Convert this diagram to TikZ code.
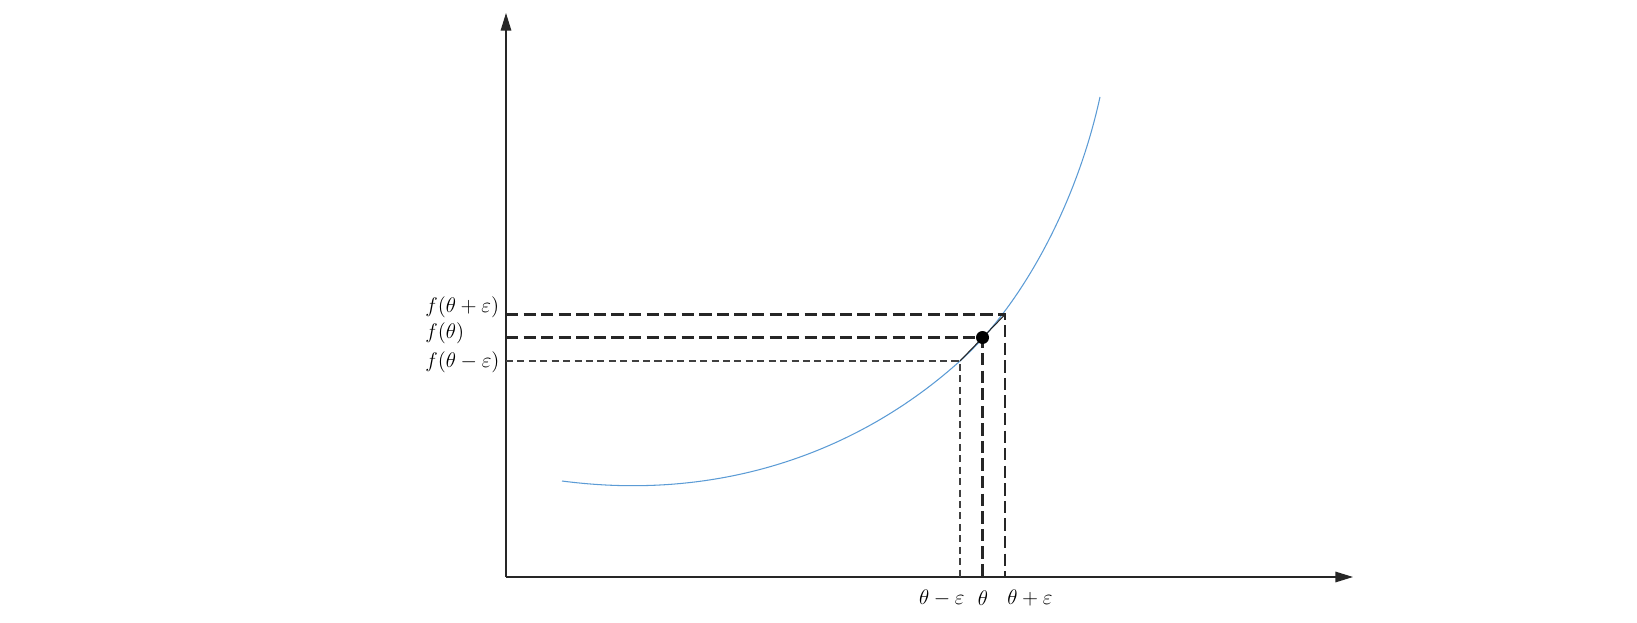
\documentclass[tikz,border=0pt]{standalone}
\usepackage{amsmath, amssymb}
\usepackage{tikz}
\usetikzlibrary{arrows.meta, calc, positioning}
\tikzset{>={Triangle[length=10pt, width=6pt]}}
\definecolor{curveblue}{RGB}{91,155,213}

\begin{document}
\begin{tikzpicture}[
  axisline/.style={->, line width=0.7pt, black!85},
  fcurve/.style={line width=0.6pt, curveblue},
  thickdash/.style={line width=1.3pt, black!85, dash pattern=on 7pt off 3pt},
  thindash/.style={line width=0.6pt, black!75, dash pattern=on 4pt off 2.5pt},
  chord/.style={line width=0.6pt, black!85},
  labelstyle/.style={font=\large, inner sep=0pt}
]
\useasboundingbox (-10.12,-0.9) rectangle (22.62,11.54);

% Axes
\coordinate (O) at (0,0);
\coordinate (xend) at (16.94,0);
\coordinate (yend) at (0,11.28);
\draw[axisline] (O) -- (xend);
\draw[axisline] (O) -- (yend);

% Points theta-eps, theta, theta+eps on the curve
\coordinate (Pm) at (9.08,4.32);
\coordinate (P) at (9.53,4.79);
\coordinate (Pp) at (9.98,5.25);

% The function
\draw[fcurve] (1.12,1.92) .. controls (4.32,1.50) and (7.08,2.52) .. (Pm)
  .. controls (10.28,5.40) and (11.40,7.40) .. (11.88,9.60);

% Projections onto the axes
\draw[thindash] (O |- Pm) -- (Pm) -- (Pm |- O);
\draw[thickdash] (O |- P) -- (P) -- (P |- O);
\draw[thickdash] (O |- Pp) -- (Pp) -- (Pp |- O);

% Chord and the point
\draw[chord] (Pm) -- (Pp);
\node[circle, fill=black, inner sep=0pt, minimum size=0.26cm] (dot) at (P) {};

% Labels on the x axis
\node[labelstyle, anchor=east] (xm) at (9.18,-0.42) {$\theta-\varepsilon$};
\node[labelstyle] (x0) at (9.54,-0.42) {$\theta$};
\node[labelstyle, anchor=west] (xp) at (10.02,-0.42) {$\theta+\varepsilon$};

% Labels on the y axis
\node[labelstyle, anchor=west] (yp) at (-1.62,5.40) {$f(\theta+\varepsilon)$};
\node[labelstyle, anchor=west] (y0) at (-1.62,4.88) {$f(\theta)$};
\node[labelstyle, anchor=west] (ym) at (-1.62,4.30) {$f(\theta-\varepsilon)$};

\end{tikzpicture}
\end{document}
